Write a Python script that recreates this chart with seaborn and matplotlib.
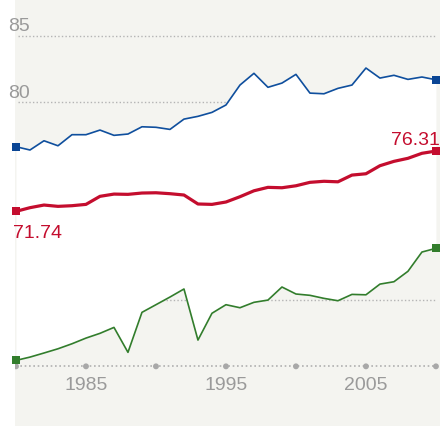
import matplotlib
matplotlib.use("Agg")
import matplotlib.pyplot as plt
import seaborn as sns
import numpy as np
import pandas as pd

years = list(range(1980, 2011))
high = [76.64, 76.39, 77.09, 76.71, 77.55, 77.55, 77.90, 77.50, 77.60, 78.15,
        78.11, 77.95, 78.73, 78.94, 79.24, 79.80, 81.31, 82.20, 81.14, 81.46,
        82.12, 80.70, 80.65, 81.06, 81.31, 82.60, 81.84, 82.05, 81.74, 81.92, 81.71]
country = [71.74, 72.02, 72.22, 72.12, 72.17, 72.27, 72.88, 73.05, 73.03, 73.13,
           73.15, 73.08, 72.98, 72.30, 72.27, 72.45, 72.85, 73.30, 73.56, 73.53,
           73.68, 73.94, 74.02, 73.98, 74.49, 74.59, 75.20, 75.53, 75.76, 76.14, 76.31]
low = [60.45, 60.70, 61.01, 61.33, 61.71, 62.14, 62.50, 62.95, 61.06, 64.09,
       64.67, 65.25, 65.86, 61.99, 64.02, 64.67, 64.44, 64.85, 65.02, 66.01,
       65.48, 65.38, 65.15, 64.97, 65.45, 65.42, 66.23, 66.41, 67.20, 68.66, 68.94]
grid_values = [85, 80, 65]
axis_value = 60
tick_years = [1985, 1995, 2005]
dot_years = [1980, 1985, 1990, 1995, 2000, 2005, 2010]

BG = "#f4f4f0"
BLUE = "#0f4f9e"
RED = "#c40d2e"
GREEN = "#327d2c"
GRAY = "#9a9a9a"

sns.set_theme(style="white")
plt.rcParams['font.family'] = ['Liberation Sans', 'DejaVu Sans']

fig = plt.figure(figsize=(4.4, 4.27), dpi=100, facecolor="white")
ax = fig.add_axes([15 / 440, 0, 425 / 440, 1])
ax.set_facecolor(BG)
for s in ax.spines.values():
    s.set_visible(False)
ax.set_xticks([])
ax.set_yticks([])
ax.set_xlim(1979.93, 2010.29)
ax.set_ylim(55.48, 87.83)

dots = (0, (1, 1.6))
for g in grid_values:
    ax.hlines(g, 1980.15, 2009.9, colors="#b4b4b4", linestyles=dots, linewidth=1.0, zorder=1)
ax.hlines(axis_value, years[0], years[-1], colors="#b0b0b0", linestyles=dots, linewidth=1.2, zorder=1)

ax.fill_between(years, low, high, color="white", zorder=1.5, linewidth=0)

# bottom axis dots
sns.scatterplot(x=dot_years, y=[axis_value] * len(dot_years), color="#a8a8a8",
                s=18, edgecolor="none", ax=ax, zorder=2)

df = pd.DataFrame({"year": years, "high": high, "country": country, "low": low})
sns.lineplot(data=df, x="year", y="high", color=BLUE, linewidth=1.2, ax=ax, zorder=3)
sns.lineplot(data=df, x="year", y="low", color=GREEN, linewidth=1.2, ax=ax, zorder=3)
sns.lineplot(data=df, x="year", y="country", color=RED, linewidth=2.3, ax=ax, zorder=4)
ax.lines[-1].set_solid_joinstyle("round")
ax.lines[-1].set_solid_capstyle("round")

for series, col in [(high, "#0a4594"), (country, RED), (low, GREEN)]:
    ax.plot([years[0], years[-1]], [series[0], series[-1]], linestyle="none",
            marker="s", markersize=5.8, color=col, markeredgewidth=0, zorder=5,
            clip_on=False)

ax.set_xlabel("")
ax.set_ylabel("")

fs = 14
ax.text(1979.43, 85.5, "85", color=GRAY, fontsize=fs, ha="left", va="baseline", clip_on=False)
ax.text(1979.43, 80.38, "80", color=GRAY, fontsize=fs, ha="left", va="baseline", clip_on=False)
for y in tick_years:
    ax.text(y, 58.28, str(y), color=GRAY, fontsize=fs, ha="center", va="baseline")
ax.text(1979.76, 69.82, f"{country[0]:.2f}", color=RED, fontsize=fs, ha="left", va="baseline", clip_on=False)
ax.text(2010.3, 76.84, f"{country[-1]:.2f}", color=RED, fontsize=fs, ha="right", va="baseline")

if ax.get_legend():
    ax.get_legend().remove()

fig.savefig("out.png", dpi=100, facecolor="white")
